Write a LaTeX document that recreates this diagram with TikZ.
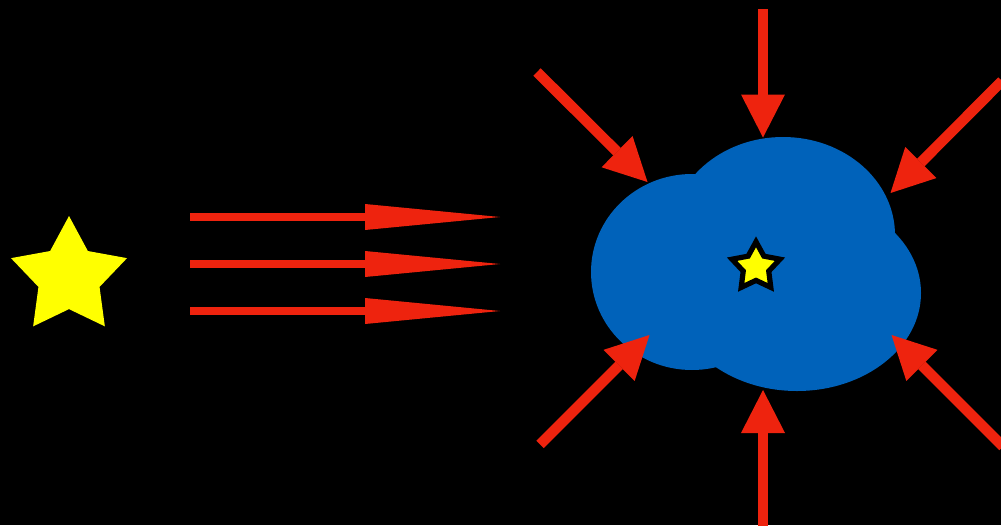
\documentclass[tikz,border=0pt]{standalone}
\usetikzlibrary{arrows.meta,shapes.geometric}
\definecolor{arrowred}{RGB}{238,35,14}
\definecolor{cloudblue}{RGB}{0,98,186}
\definecolor{staryellow}{RGB}{255,255,0}
\begin{document}
\begin{tikzpicture}[x=1pt,y=-1pt,
  bigarrow/.style={draw=arrowred, line width=10.5pt, -{Triangle[length=43pt,width=44pt,line width=0pt]}},
  beamarrow/.style={draw=arrowred, line width=8.3pt, -{Triangle[length=135pt,width=26pt,line width=0pt]}},
  starshape/.style={star, star points=5, star point ratio=1.9, inner sep=0pt, outer sep=0pt}]
\useasboundingbox (0,0) rectangle (1001,525);
\clip (0,0) rectangle (1001,525);
\fill[black] (0,0) rectangle (1001,525);
% left star
\node[starshape, fill=staryellow, minimum size=122pt] (bigstar) at (69,277) {};
% beams
\coordinate (b1a) at (190,217); \coordinate (b1b) at (500,217);
\coordinate (b2a) at (190,264); \coordinate (b2b) at (500,264);
\coordinate (b3a) at (190,311); \coordinate (b3b) at (500,311);
\draw[beamarrow] (b1a) -- (b1b);
\draw[beamarrow] (b2a) -- (b2b);
\draw[beamarrow] (b3a) -- (b3b);
% cloud
\fill[cloudblue] (692,272) ellipse [x radius=101pt, y radius=98pt];
\fill[cloudblue] (783,235) ellipse [x radius=112pt, y radius=98pt];
\fill[cloudblue] (797,293) ellipse [x radius=124pt, y radius=98pt];
% small star
\filldraw[fill=staryellow, draw=black, line width=5.2pt, line join=miter]
  plot[samples at={0,...,9}] ({756+(mod(\x,2)==0 ? 25.2 : 13.4)*cos(-90+36*\x)}, {267+(mod(\x,2)==0 ? 25.2 : 13.4)*sin(-90+36*\x)}) -- cycle;
% inward arrows
\coordinate (tA) at (763,9);      \coordinate (tB) at (763,137.5);
\coordinate (tlA) at (537,72);    \coordinate (tlB) at (647.5,182);
\coordinate (trA) at (1002,81);   \coordinate (trB) at (890.5,193);
\coordinate (blA) at (540,444.5); \coordinate (blB) at (649.5,335);
\coordinate (brA) at (1003,446.5);\coordinate (brB) at (891.5,335);
\coordinate (bA) at (763,530);    \coordinate (bB) at (763,390);
\draw[bigarrow] (tA) -- (tB);
\draw[bigarrow] (tlA) -- (tlB);
\draw[bigarrow] (trA) -- (trB);
\draw[bigarrow] (blA) -- (blB);
\draw[bigarrow] (brA) -- (brB);
\draw[bigarrow] (bA) -- (bB);
\end{tikzpicture}
\end{document}
